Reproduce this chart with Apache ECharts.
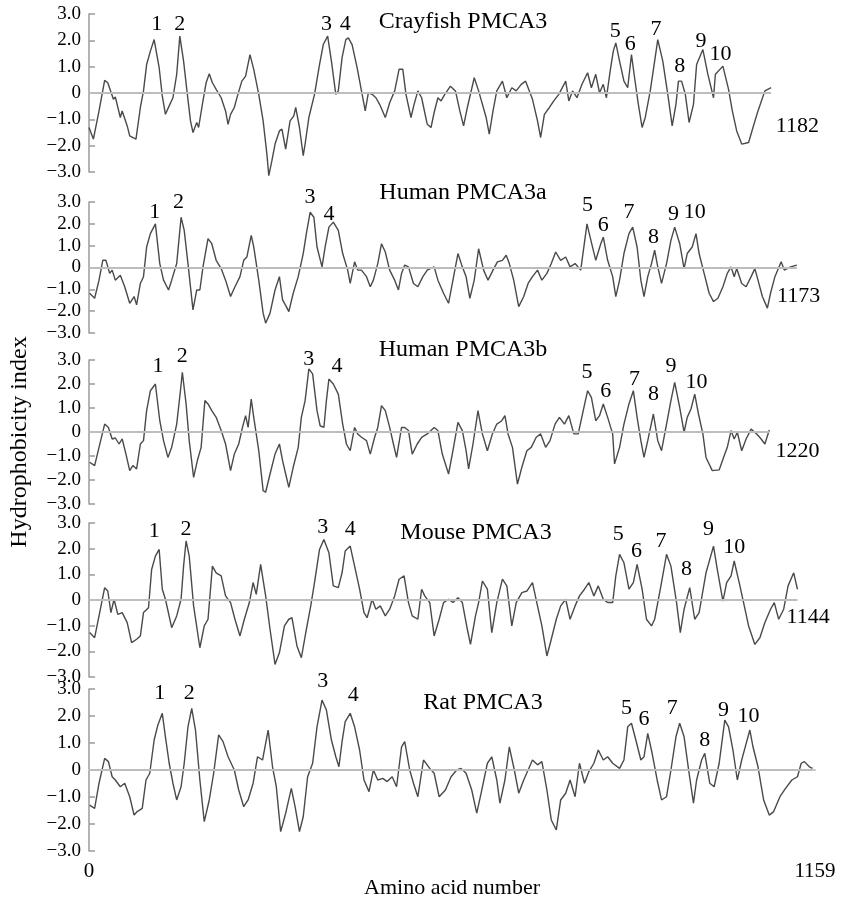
<!DOCTYPE html>
<html>
<head>
<meta charset="utf-8">
<script src="https://cdn.jsdelivr.net/npm/echarts@6/dist/echarts.min.js"></script>
<style>
  html, body { margin: 0; padding: 0; background: #fff; }
  #chart { width: 843px; height: 899px; }
</style>
</head>
<body>
<div id="chart"></div>
<script>
// hydrophobicity profiles, [amino acid number, index]
const crayfish = [[0,-1.31],[7,-1.75],[16,-0.68],[25,0.48],[30,0.39],[39,-0.24],[42,-0.15],[50,-0.93],[53,-0.68],[61,-1.25],[65,-1.63],[75,-1.75],[82,-0.55],[87,0.08],[92,1.08],[98,1.59],[104,2.03],[112,0.96],[117,-0.11],[122,-0.81],[128,-0.49],[134,-0.18],[140,0.71],[145,2.16],[151,1.21],[157,-0.05],[162,-1.06],[166,-1.5],[172,-1.12],[175,-1.31],[181,-0.43],[187,0.39],[192,0.73],[197,0.39],[203,0.14],[211,-0.18],[218,-0.68],[222,-1.19],[226,-0.81],[232,-0.55],[237,-0.11],[244,0.45],[250,0.64],[257,1.46],[263,0.9],[271,-0.05],[278,-1.06],[284,-2.32],[287,-3.14],[292,-2.57],[297,-1.94],[304,-1.44],[308,-1.37],[314,-2.13],[321,-1.06],[327,-0.87],[330,-0.55],[336,-1.31],[342,-2.38],[345,-1.94],[351,-0.93],[360,-0.05],[368,1.08],[374,1.84],[381,2.16],[387,1.21],[394,-0.05],[398,0.08],[404,1.34],[410,2.03],[414,2.09],[420,1.84],[428,0.96],[435,0.08],[441,-0.68],[446,0.01],[452,-0.05],[458,-0.18],[464,-0.43],[473,-0.93],[480,-0.37],[488,0.08],[495,0.9],[501,0.9],[506,-0.05],[514,-0.93],[519,-0.43],[525,0.08],[531,-0.18],[540,-1.19],[546,-1.31],[551,-0.74],[557,-0.18],[562,-0.3],[568,-0.05],[577,0.26],[585,0.08],[592,-0.68],[598,-1.25],[604,-0.55],[615,0.58],[622,0.08],[634,-0.93],[639,-1.56],[645,-0.68],[651,0.08],[660,0.45],[667,-0.18],[675,0.2],[682,0.08],[690,0.33],[697,0.45],[708,-0.24],[716,-1.06],[721,-1.69],[727,-0.81],[735,-0.55],[742,-0.3],[750,-0.05],[761,0.45],[766,-0.3],[772,0.08],[779,-0.18],[787,0.33],[796,0.77],[802,0.2],[809,0.71],[815,0.01],[821,0.33],[826,-0.18],[832,0.83],[837,1.59],[841,1.9],[847,1.21],[854,0.45],[860,0.2],[866,1.46],[871,0.58],[877,-0.43],[883,-1.31],[888,-0.93],[896,0.08],[903,1.21],[908,2.03],[916,1.21],[924,-0.05],[931,-1.25],[937,-0.43],[941,0.45],[946,0.45],[952,-0.05],[958,-1.12],[965,-0.43],[970,1.08],[980,1.65],[988,0.71],[997,-0.18],[1000,0.71],[1012,1.02],[1021,0.14],[1027,-0.68],[1034,-1.44],[1042,-1.94],[1053,-1.88],[1060,-1.31],[1068,-0.68],[1079,0.08],[1089,0.2]]

const humanA = [[1,-1.18],[9,-1.41],[16,-0.58],[22,0.33],[27,0.33],[33,-0.27],[37,-0.12],[42,-0.58],[50,-0.35],[57,-0.88],[65,-1.64],[72,-1.33],[76,-1.71],[82,-0.73],[87,-0.42],[92,0.94],[98,1.55],[106,2.0],[113,0.18],[119,-0.58],[127,-1.03],[132,-0.58],[140,0.18],[147,2.3],[152,1.7],[158,0.18],[166,-1.94],[172,-1.03],[177,-1.03],[182,0.03],[190,1.32],[196,1.09],[203,0.33],[211,-0.05],[218,-0.58],[226,-1.33],[233,-0.88],[241,-0.42],[247,0.33],[252,0.48],[259,1.47],[263,0.94],[271,-0.58],[278,-2.09],[282,-2.55],[289,-2.09],[297,-1.03],[304,-0.42],[309,-1.48],[315,-1.79],[319,-2.02],[326,-1.18],[334,-0.42],[342,0.64],[347,1.55],[353,2.53],[359,2.3],[364,0.94],[372,0.03],[377,0.94],[383,1.85],[390,2.08],[398,1.7],[405,0.64],[413,-0.12],[417,-0.73],[424,0.26],[429,-0.12],[435,-0.12],[443,-0.42],[449,-0.88],[454,-0.58],[461,0.18],[467,1.09],[473,0.71],[480,-0.12],[488,-0.58],[494,-1.03],[499,-0.27],[504,0.11],[510,0.03],[518,-0.73],[525,-0.88],[533,-0.42],[540,-0.12],[551,0.03],[557,-0.58],[566,-1.18],[574,-1.64],[581,-0.58],[589,0.64],[596,0.03],[602,-0.42],[608,-1.41],[615,-0.58],[622,0.86],[630,-0.12],[637,-0.58],[645,-0.12],[652,0.26],[660,0.33],[666,0.56],[671,0.18],[678,-0.58],[686,-1.79],[694,-1.33],[701,-0.73],[708,-0.42],[716,-0.12],[723,-0.58],[731,-0.27],[738,0.18],[745,0.71],[753,0.33],[761,0.48],[768,0.03],[776,0.18],[785,-0.12],[795,2.0],[800,1.39],[809,0.33],[817,1.09],[821,1.39],[828,0.33],[836,-0.42],[841,-1.33],[847,-0.58],[854,0.64],[862,1.55],[868,1.85],[875,0.94],[881,-0.58],[886,-1.33],[892,-0.42],[898,0.18],[903,0.79],[908,0.03],[914,-0.73],[922,0.18],[929,1.24],[935,1.85],[943,1.09],[950,-0.05],[955,0.64],[963,0.94],[969,1.55],[974,0.64],[982,-0.27],[990,-1.18],[997,-1.56],[1004,-1.41],[1012,-0.88],[1019,-0.27],[1025,0.03],[1030,-0.42],[1034,-0.05],[1042,-0.73],[1049,-0.88],[1057,-0.42],[1063,-0.05],[1068,-0.58],[1075,-1.33],[1083,-1.86],[1088,-1.18],[1095,-0.42],[1105,0.26],[1110,-0.12],[1120,0.03],[1130,0.11]]

const humanB = [[1,-1.26],[9,-1.4],[16,-0.64],[25,0.33],[31,0.19],[37,-0.29],[42,-0.25],[48,-0.5],[53,-0.29],[59,-0.92],[65,-1.61],[70,-1.4],[76,-1.54],[82,-0.5],[87,-0.36],[92,0.89],[98,1.72],[106,2.0],[113,0.47],[119,-0.36],[126,-1.06],[132,-0.64],[140,0.33],[146,1.72],[149,2.49],[155,1.17],[160,-0.36],[167,-1.89],[173,-1.19],[179,-0.64],[185,1.31],[190,1.17],[196,0.89],[203,0.61],[211,0.06],[218,-0.5],[226,-1.61],[232,-0.92],[239,-0.5],[245,0.19],[250,0.68],[254,0.19],[259,1.37],[263,0.61],[271,-0.78],[278,-2.44],[282,-2.51],[289,-1.75],[297,-0.92],[304,-0.5],[309,-1.19],[314,-1.75],[319,-2.31],[326,-1.47],[334,-0.64],[339,0.61],[345,1.31],[351,2.63],[357,2.42],[364,0.89],[369,0.26],[375,0.19],[379,1.31],[383,2.21],[390,2.0],[398,1.58],[405,0.33],[411,-0.5],[417,-0.78],[424,0.19],[429,-0.08],[435,-0.22],[443,-0.36],[449,-0.92],[456,-0.22],[461,0.19],[467,1.1],[473,0.89],[480,0.19],[486,-0.5],[491,-1.06],[499,0.19],[504,0.19],[510,0.06],[516,-0.92],[524,-0.5],[531,-0.22],[540,-0.08],[551,0.19],[557,0.06],[564,-0.92],[574,-1.75],[581,-0.78],[589,0.4],[596,0.06],[602,-0.78],[606,-1.54],[613,-0.5],[621,0.89],[628,-0.08],[636,-0.78],[644,-0.08],[651,0.33],[659,0.47],[664,0.68],[669,-0.08],[676,-0.64],[684,-2.17],[691,-1.47],[699,-0.78],[706,-0.64],[714,-0.22],[721,-0.08],[729,-0.64],[736,-0.36],[744,0.33],[751,0.61],[759,0.33],[766,0.68],[774,-0.08],[781,-0.08],[789,0.89],[796,1.72],[802,1.44],[809,0.47],[815,0.68],[821,1.17],[828,0.61],[836,-0.08],[839,-1.33],[847,-0.64],[854,0.33],[862,1.17],[869,1.72],[875,0.61],[881,-0.36],[886,-1.06],[892,-0.36],[901,0.75],[908,-0.36],[914,-0.78],[922,0.33],[929,1.31],[935,2.07],[943,1.03],[950,-0.01],[955,0.61],[961,0.96],[967,1.58],[973,0.75],[980,-0.08],[985,-1.06],[995,-1.61],[1006,-1.58],[1013,-1.06],[1019,-0.64],[1025,0.06],[1030,-0.29],[1035,-0.01],[1042,-0.78],[1049,-0.29],[1057,0.12],[1066,-0.08],[1073,-0.29],[1079,-0.5],[1086,0.08]]

const mouse = [[1,-1.27],[9,-1.47],[16,-0.62],[25,0.48],[30,0.35],[35,-0.49],[40,0.03],[46,-0.56],[53,-0.49],[61,-0.88],[68,-1.66],[76,-1.53],[82,-1.4],[87,-0.49],[95,-0.3],[100,1.19],[106,1.71],[112,1.97],[117,0.42],[122,0.03],[132,-1.08],[140,-0.62],[147,0.03],[151,1.32],[155,2.3],[160,1.71],[167,-0.23],[177,-1.86],[184,-1.01],[190,-0.75],[197,1.32],[203,1.06],[211,0.94],[218,0.16],[226,-0.1],[233,-0.75],[241,-1.4],[248,-0.75],[256,-0.1],[262,0.68],[267,0.22],[274,1.39],[282,0.16],[289,-1.14],[297,-2.51],[304,-2.05],[312,-1.01],[319,-0.75],[324,-0.69],[332,-1.79],[339,-2.25],[347,-1.14],[354,-0.23],[360,0.68],[368,1.97],[375,2.36],[383,1.84],[390,0.55],[398,0.48],[404,1.06],[409,1.91],[417,2.1],[424,1.32],[432,0.42],[439,-0.49],[444,-0.69],[452,0.03],[458,-0.36],[465,-0.23],[473,-0.62],[480,-0.36],[488,0.16],[495,0.81],[503,0.94],[510,-0.1],[516,-0.62],[525,-0.75],[531,0.42],[536,0.16],[544,-0.1],[551,-1.4],[559,-0.75],[566,-0.1],[574,0.03],[581,-0.1],[589,0.09],[596,-0.1],[604,-1.14],[609,-1.73],[617,-0.62],[622,-0.1],[628,0.74],[636,0.42],[643,-1.27],[651,-0.1],[660,0.81],[667,0.55],[675,-1.01],[682,-0.1],[691,0.29],[699,0.35],[708,0.68],[716,-0.23],[723,-1.01],[731,-2.18],[738,-1.53],[746,-0.75],[753,-0.23],[761,0.03],[768,-0.75],[776,-0.23],[783,0.16],[791,0.42],[798,0.68],[806,0.16],[813,0.55],[821,0.03],[828,-0.1],[836,-0.1],[841,0.94],[847,1.78],[854,1.45],[862,0.42],[869,0.68],[875,1.39],[883,0.42],[890,-0.75],[898,-1.01],[903,-0.75],[913,0.55],[922,1.78],[929,1.32],[938,-0.1],[944,-1.27],[950,-0.36],[959,0.48],[967,-0.75],[974,-0.49],[985,1.06],[997,2.1],[1003,1.19],[1012,-0.04],[1018,0.68],[1025,0.94],[1030,1.52],[1038,0.68],[1045,-0.1],[1053,-1.01],[1063,-1.73],[1071,-1.47],[1079,-0.88],[1088,-0.36],[1094,-0.1],[1101,-0.75],[1109,-0.36],[1116,0.55],[1125,1.06],[1131,0.42]]

const rat = [[1,-1.3],[9,-1.42],[16,-0.49],[25,0.43],[31,0.31],[37,-0.25],[42,-0.37],[50,-0.62],[57,-0.49],[65,-0.99],[72,-1.67],[77,-1.54],[85,-1.42],[91,-0.37],[97,-0.12],[104,1.11],[110,1.67],[117,2.1],[122,1.23],[128,0.25],[134,-0.49],[140,-1.11],[147,-0.62],[152,0.25],[158,1.6],[164,2.28],[170,1.48],[177,-0.37],[184,-1.91],[192,-1.11],[199,-0.12],[207,1.3],[214,1.05],[222,0.49],[232,0],[239,-0.74],[247,-1.36],[254,-1.11],[262,-0.49],[269,0.49],[277,0.37],[286,1.48],[293,0.12],[299,-0.62],[306,-2.28],[314,-1.6],[323,-0.68],[329,-1.36],[336,-2.28],[342,-1.73],[349,-0.25],[357,0.25],[364,1.6],[372,2.59],[379,2.22],[387,1.11],[394,0.49],[399,0.12],[404,1.05],[409,1.79],[417,2.1],[424,1.6],[432,0.74],[439,-0.37],[447,-0.8],[454,0],[461,-0.37],[469,-0.31],[476,-0.43],[484,-0.25],[491,-0.62],[499,0.86],[504,1.05],[512,0],[518,-0.49],[525,-0.99],[534,0.37],[544,0.06],[551,-0.12],[559,-0.99],[569,-0.74],[578,-0.25],[587,0],[594,0.06],[602,-0.12],[611,-0.74],[619,-1.6],[626,-0.86],[636,0.25],[643,0.49],[651,-0.37],[656,-1.23],[664,-0.37],[671,0.86],[679,0],[686,-0.86],[694,-0.37],[701,0],[708,0.37],[716,0.19],[723,0.31],[731,-0.74],[738,-1.85],[746,-2.22],[753,-1.11],[761,-0.86],[768,-0.37],[776,-0.99],[783,0.25],[791,-0.49],[798,-0.06],[806,0.25],[813,0.74],[821,0.37],[828,0.49],[836,0.25],[847,0.06],[854,0.37],[860,1.6],[866,1.73],[873,1.11],[881,0.37],[886,0.49],[892,1.36],[899,0.62],[907,-0.37],[914,-1.11],[922,-0.99],[929,0],[937,1.23],[943,1.73],[950,1.23],[958,-0.12],[965,-1.23],[970,-0.37],[978,0.37],[983,0.62],[991,-0.49],[998,-0.62],[1006,0.25],[1015,1.85],[1021,1.6],[1028,0.74],[1035,-0.37],[1042,0.37],[1047,0.8],[1055,1.48],[1060,0.86],[1068,0.12],[1077,-1.11],[1086,-1.67],[1093,-1.54],[1103,-0.99],[1112,-0.68],[1122,-0.37],[1131,-0.25],[1137,0.25],[1142,0.31],[1150,0.12],[1155,0.06]]

// peak numbers and sequence lengths, [x, y, text]
const crayfishMarks = [[108,2.62,'1'],[145,2.62,'2'],[379,2.62,'3'],[409,2.62,'4'],[840,2.35,'5'],[864,1.84,'6'],[905,2.41,'7'],[943,1.02,'8'],[977,1.97,'9'],[1008,1.46,'10'],[1131,-1.25,'1182']]
const humanAMarks = [[105,2.53,'1'],[143,2.98,'2'],[353,3.21,'3'],[383,2.45,'4'],[796,2.83,'5'],[821,1.92,'6'],[862,2.53,'7'],[901,1.39,'8'],[933,2.45,'9'],[967,2.53,'10'],[1133,-1.33,'1173']]
const humanBMarks = [[110,2.76,'1'],[149,3.14,'2'],[351,3.04,'3'],[396,2.76,'4'],[795,2.49,'5'],[825,1.72,'6'],[871,2.21,'7'],[901,1.58,'8'],[929,2.76,'9'],[970,2.07,'10'],[1131,-0.78,'1220']]
const mouseMarks = [[104,2.69,'1'],[155,2.75,'2'],[373,2.82,'3'],[417,2.75,'4'],[845,2.56,'5'],[874,1.91,'6'],[913,2.3,'7'],[954,1.19,'8'],[989,2.75,'9'],[1030,2.04,'10'],[1148,-0.67,'1144']]
const ratMarks = [[113,2.84,'1'],[160,2.86,'2'],[373,3.27,'3'],[422,2.78,'4'],[858,2.28,'5'],[886,1.88,'6'],[931,2.28,'7'],[983,1.11,'8'],[1013,2.22,'9'],[1053,1.98,'10']]

const names = ['Crayfish PMCA3', 'Human PMCA3a', 'Human PMCA3b', 'Mouse PMCA3', 'Rat PMCA3']
const yTicks = [-3, -2, -1, 0, 1, 2, 3]
const xMax = 1159

const profiles = [crayfish, humanA, humanB, mouse, rat]
const marks = [crayfishMarks, humanAMarks, humanBMarks, mouseMarks, ratMarks]

// panel boxes in px, title anchors in px
const layout = [
  { top: 14, height: 158, title: [463, 22] },
  { top: 202, height: 131, title: [463, 193] },
  { top: 360, height: 144, title: [463, 350] },
  { top: 523, height: 154, title: [476, 533] },
  { top: 689, height: 162, title: [483, 703] }
]

const FONT = '"Liberation Serif", "DejaVu Serif", serif'
const last = layout.length - 1

function tickLabel(v) {
  if (v === 0) return '0'
  return (v < 0 ? '\u2212' : '') + Math.abs(v).toFixed(1)
}

const chart = echarts.init(document.getElementById('chart'), null, { renderer: 'canvas' })

const option = {
  animation: false,
  backgroundColor: '#fff',
  grid: layout.map((l) => ({
    left: 89, width: 726, top: l.top, height: l.height,
    containLabel: false, outerBoundsMode: 'none'
  })),
  xAxis: layout.map((l, i) => ({
    type: 'value',
    gridIndex: i,
    min: 0,
    max: xMax,
    interval: xMax,
    show: i === last,
    axisLine: { show: true, lineStyle: { color: '#c8c8c8', width: 2 } },
    axisTick: { show: false },
    splitLine: { show: false },
    axisLabel: { color: '#000', fontSize: 21, fontFamily: FONT, margin: 10, formatter: (v) => String(v) },
    name: i === last ? 'Amino acid number' : '',
    nameLocation: 'middle',
    nameGap: 26,
    nameMoveOverlap: false,
    nameTextStyle: { color: '#000', fontSize: 22, fontFamily: FONT }
  })),
  yAxis: layout.map((l, i) => ({
    type: 'value',
    gridIndex: i,
    min: yTicks[0],
    max: yTicks[yTicks.length - 1],
    interval: 1,
    axisLine: { show: true, lineStyle: { color: '#9a9a9a', width: 1.5 } },
    axisTick: { show: true, inside: true, length: 6, lineStyle: { color: '#9a9a9a', width: 1.5 } },
    splitLine: { show: false },
    axisLabel: { formatter: tickLabel, color: '#000', fontSize: 19, fontFamily: FONT, margin: 8 }
  })),
  series: profiles.flatMap((data, i) => [
    {
      type: 'line',
      xAxisIndex: i,
      yAxisIndex: i,
      data: data,
      symbol: 'none',
      clip: false,
      silent: true,
      lineStyle: { color: '#4a4a4a', width: 1.4 },
      markLine: {
        silent: true,
        symbol: 'none',
        label: { show: false },
        lineStyle: { color: '#bdbdbd', width: 1.8, type: 'solid' },
        data: [[{ coord: [0, 0] }, { coord: [data[data.length - 1][0], 0] }]]
      }
    },
    {
      type: 'scatter',
      xAxisIndex: i,
      yAxisIndex: i,
      data: marks[i],
      symbolSize: 1,
      clip: false,
      silent: true,
      itemStyle: { color: 'transparent', opacity: 1 },
      label: {
        show: true,
        position: 'inside',
        formatter: (p) => p.data[2],
        color: '#000',
        opacity: 1,
        textBorderWidth: 0,
        fontSize: 22,
        fontFamily: FONT
      }
    }
  ]),
  graphic: [
    ...layout.map((l, i) => ({
      type: 'text',
      x: l.title[0],
      y: l.title[1],
      style: {
        text: names[i],
        fill: '#000',
        font: '24px ' + FONT,
        textAlign: 'center',
        textVerticalAlign: 'middle'
      }
    })),
    {
      type: 'text',
      x: 20,
      y: 442,
      rotation: Math.PI / 2,
      style: {
        text: 'Hydrophobicity index',
        fill: '#000',
        font: '24px ' + FONT,
        textAlign: 'center',
        textVerticalAlign: 'middle'
      }
    }
  ]
}

chart.setOption(option)
</script>
</body>
</html>
